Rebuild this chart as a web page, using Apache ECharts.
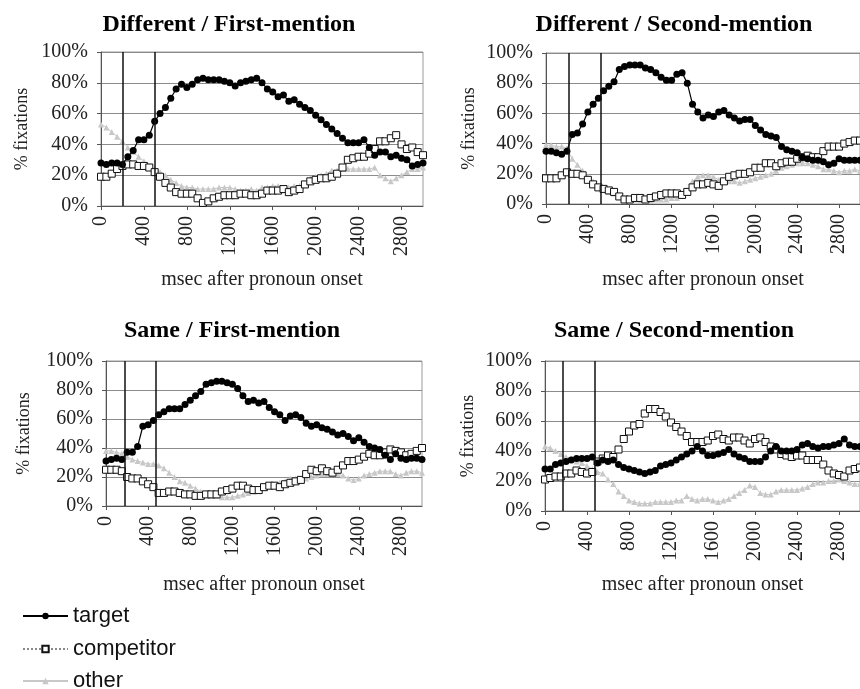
<!DOCTYPE html>
<html><head><meta charset="utf-8">
<script src="https://cdn.jsdelivr.net/npm/echarts@6/dist/echarts.min.js"></script>
<style>html,body{margin:0;padding:0;background:#fff}#c{width:860px;height:689px}</style>
</head><body><div id="c"></div>
<script>
const time = [0,50,100,150,200,250,300,350,400,450,500,550,600,650,700,750,800,850,900,950,1000,1050,1100,1150,1200,1250,1300,1350,1400,1450,1500,1550,1600,1650,1700,1750,1800,1850,1900,1950,2000,2050,2100,2150,2200,2250,2300,2350,2400,2450,2500,2550,2600,2650,2700,2750,2800,2850,2900,2950,3000];
const xTicks = [0,400,800,1200,1600,2000,2400,2800];
const yTicks = [0,20,40,60,80,100];

// Different / First-mention
const dfTarget = [28,27,28,28,27,32,36,43,43,46,55,60,64,70,76,79,77,79,82,83,82,82,82,81,80,78,80,81,82,83,80,76,74,71,72,68,69,66,64,62,59,56,53,50,47,44,41,41,41,43,38,33,35,35,32,33,31,30,26,27,28];
const dfComp   = [19,19,21,24,26,27,27,26,26,25,22,19,15,12,9,8,8,8,5,2,3,5,6,7,7,7,8,8,7,7,8,10,10,10,11,9,10,11,14,16,17,18,18,19,21,25,30,31,32,32,34,37,42,42,44,46,40,37,38,35,33];
const dfOther  = [53,51,48,45,42,38,35,32,29,26,24,22,20,17,15,13,12,12,11,11,11,11,12,12,12,11,10,10,11,10,12,12,13,13,12,12,13,13,14,18,19,20,21,23,23,24,24,24,24,24,24,25,20,18,16,18,20,22,24,24,25];
// Different / Second-mention
const dsTarget = [35,35,34,33,35,46,47,53,61,66,70,75,78,81,89,91,92,92,92,90,89,87,84,82,82,86,87,80,66,61,57,59,58,61,62,59,57,55,56,56,52,49,46,45,44,38,36,35,34,31,30,29,29,28,26,27,30,29,29,29,29];
const dsComp   = [17,17,17,19,21,20,20,19,16,13,11,10,9,8,5,3,3,4,4,3,4,5,6,7,7,7,6,8,11,13,13,14,13,12,15,18,19,20,20,21,24,24,27,27,25,27,28,28,30,31,32,31,31,35,38,38,38,40,41,42,42];
const dsOther  = [39,39,38,38,37,30,26,22,18,15,12,10,8,7,5,4,3,3,2,2,2,3,3,3,4,4,6,8,15,18,19,19,18,16,15,15,15,14,15,16,17,18,19,20,22,24,25,26,27,27,27,26,25,23,23,22,21,22,22,23,22];
// Same / First-mention
const sfTarget = [31,32,33,32,37,37,41,55,56,59,63,65,67,67,67,70,73,76,79,84,85,86,86,85,84,81,76,72,73,71,72,68,65,63,59,62,63,61,57,55,56,54,53,51,49,50,48,45,47,44,41,40,39,35,32,36,33,32,33,33,32];
const sfComp   = [25,25,25,24,20,19,19,17,15,13,9,9,10,10,9,8,8,7,7,8,8,8,10,11,12,14,14,12,11,11,13,14,14,13,15,16,17,18,22,25,24,26,24,23,25,28,31,31,32,34,36,35,35,37,39,38,37,35,36,38,40];
const sfOther  = [38,38,37,36,34,32,31,30,29,29,28,26,23,20,17,16,14,12,10,8,7,7,6,6,6,7,8,9,10,11,13,14,15,16,17,19,19,18,19,20,21,22,22,22,22,21,19,18,19,21,22,23,24,24,24,22,21,23,24,24,23];
// Same / Second-mention
const ssTarget = [28,28,31,32,33,34,35,35,35,36,32,34,33,34,31,29,28,27,26,25,26,27,30,31,32,34,36,38,40,43,40,37,37,38,39,41,38,36,35,33,33,33,36,40,43,40,40,40,41,44,45,43,42,43,43,44,45,48,44,43,43];
const ssComp   = [21,22,23,23,25,25,27,26,25,26,33,35,37,36,41,48,53,57,58,65,68,68,66,63,59,56,53,50,46,46,46,47,50,51,48,47,49,49,47,45,48,49,46,43,41,38,37,36,37,37,34,34,34,31,27,25,24,23,27,28,29];
const ssOther  = [43,42,40,38,36,35,33,32,30,28,26,25,21,18,13,10,7,6,5,5,5,6,6,6,6,7,7,10,8,7,8,8,7,6,7,8,10,12,14,17,16,12,11,11,13,14,14,14,14,15,16,18,19,19,20,20,21,20,19,18,18];

const titles = ['Different / First-mention','Different / Second-mention','Same / First-mention','Same / Second-mention'];
const markers = [[200,500],[215,520],[175,470],[170,475]];
const seriesNames = ['target','competitor','other'];

const layout = [
  {grid:{left:101,top:52,width:322,height:154}, title:[229,25], xGap:64, yGap:70},
  {grid:{left:546,top:53,width:322,height:151}, title:[674,25], xGap:66, yGap:68},
  {grid:{left:106,top:361,width:316,height:145}, title:[232,331], xGap:69, yGap:73},
  {grid:{left:545,top:361,width:322,height:150}, title:[674,331], xGap:64, yGap:68}
];
const panelData = [
  [dfTarget, dfComp, dfOther],
  [dsTarget, dsComp, dsOther],
  [sfTarget, sfComp, sfOther],
  [ssTarget, ssComp, ssOther]
];

const serif = 'Liberation Serif';
const pair = arr => time.map((t,i)=>[t, arr[i]]);

const grids=[], xAxes=[], yAxes=[], series=[], graphics=[];
layout.forEach((L, p) => {
  grids.push(Object.assign({show:true, borderColor:'#9a9a9a', borderWidth:1, backgroundColor:'transparent'}, L.grid));
  xAxes.push({
    type:'value', gridIndex:p, min:0, max:3000, interval:400,
    name:'msec after pronoun onset', nameLocation:'middle', nameGap:L.xGap,
    nameTextStyle:{fontFamily:serif, fontSize:20, color:'#222'},
    axisLine:{show:true, lineStyle:{color:'#555', width:1}},
    axisTick:{show:true, length:4, lineStyle:{color:'#555'}},
    axisLabel:{rotate:90, margin:10, fontFamily:serif, fontSize:20, color:'#222', showMaxLabel:false,
      formatter: v => String(v)},
    splitLine:{show:false}
  });
  yAxes.push({
    type:'value', gridIndex:p, min:0, max:100, interval:20,
    name:'% fixations', nameLocation:'middle', nameGap:L.yGap,
    nameTextStyle:{fontFamily:serif, fontSize:18, color:'#222'},
    axisLine:{show:true, lineStyle:{color:'#555', width:1}},
    axisTick:{show:true, length:4, lineStyle:{color:'#555'}},
    axisLabel:{formatter:'{value}%', margin:13, fontFamily:serif, fontSize:20, color:'#222'},
    splitLine:{show:true, lineStyle:{color:'#8c8c8c', width:1}}
  });
  const [tg, cp, ot] = panelData[p];
  series.push({
    name:'other', type:'line', xAxisIndex:p, yAxisIndex:p, data:pair(ot),
    symbol:'triangle', symbolSize:6, showSymbol:true,
    lineStyle:{color:'#c8c8c8', width:1}, itemStyle:{color:'#c8c8c8'}, animation:false, z:2
  });
  series.push({
    name:'competitor', type:'line', xAxisIndex:p, yAxisIndex:p, data:pair(cp),
    symbol:'rect', symbolSize:7, showSymbol:true,
    lineStyle:{color:'#888', width:1, type:'dotted'},
    itemStyle:{color:'#fff', borderColor:'#111', borderWidth:1}, animation:false, z:3
  });
  series.push({
    name:'target', type:'line', xAxisIndex:p, yAxisIndex:p, data:pair(tg),
    symbol:'circle', symbolSize:7, showSymbol:true,
    lineStyle:{color:'#000', width:1.2}, itemStyle:{color:'#000'}, animation:false, z:4,
    markLine:{silent:true, symbol:'none', label:{show:false},
      lineStyle:{color:'#111', width:1.5, type:'solid'},
      data: markers[p].map(v=>({xAxis:v}))}
  });
  graphics.push({type:'text', x:L.title[0], y:L.title[1],
    style:{text:titles[p], fontFamily:serif, fontSize:24, fontWeight:'bold', fill:'#000', textAlign:'center', textVerticalAlign:'middle'}});
});

const legendTops = [600, 633, 665];
const legends = seriesNames.map((n,i)=>({
  orient:'vertical', left:17, top:legendTops[i], itemWidth:45, itemHeight:8, itemGap:0,
  data:[n], selectedMode:false,
  textStyle:{fontFamily:'Liberation Sans', fontSize:22, color:'#111'}
}));

const chart = echarts.init(document.getElementById('c'), null, {renderer:'canvas'});
chart.setOption({
  backgroundColor:'#fff',
  animation:false,
  grid:grids, xAxis:xAxes, yAxis:yAxes, series:series,
  graphic:graphics,
  legend:legends
});
</script></body></html>
